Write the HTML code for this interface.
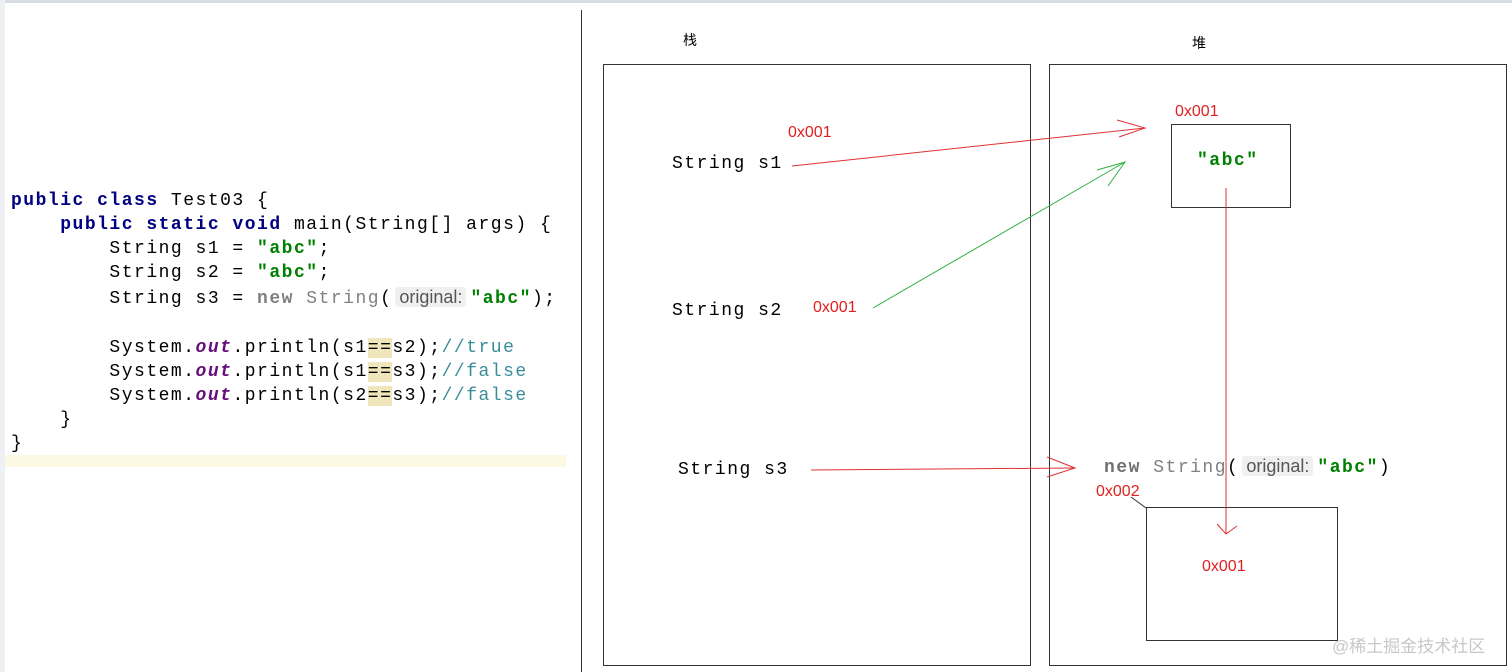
<!DOCTYPE html>
<html><head><meta charset="utf-8"><style>
body{margin:0;width:1512px;height:672px;background:#fff;position:relative;overflow:hidden;font-family:"Liberation Sans","Noto Sans CJK SC",sans-serif}
.code{position:absolute;left:11px;font-family:"Liberation Mono",monospace;font-size:18px;letter-spacing:1.5px;color:#000;white-space:pre;line-height:24.1px}
.kw{color:#000080;font-weight:bold}
.st{color:#008000;font-weight:bold}
.it{color:#660e7a;font-weight:bold;font-style:italic}
.cm{color:#3a8c9a}
.gr{color:#808080}
.hint{font-family:"Liberation Sans",sans-serif;letter-spacing:0;color:#555;background:#f0f0f0;font-size:18px;padding:0 4px;margin:0 4px 0 3px;border-radius:3px}
.hl{background:#f0e6bc}
.t{position:absolute;white-space:nowrap}
.red{color:#e02020;font-size:16px}
</style></head><body>
<div style="position:absolute;left:0;top:0;width:1512px;height:3px;background:#d8dce6"></div>
<div style="position:absolute;left:0;top:0;width:5px;height:672px;background:#eef0f4"></div>
<div style="position:absolute;left:5px;top:455px;width:561px;height:12px;background:#fdf8e4"></div>
<div class="code" style="top:189px"><span class="kw">public class</span> Test03 {
    <span class="kw">public static void</span> main(String[] args) {
        String s1 = <span class="st">"abc"</span>;
        String s2 = <span class="st">"abc"</span>;
        String s3 = <span class="kw" style="color:#808080">new</span> <span class="gr">String</span>(<span class="hint">original:</span><span class="st">"abc"</span>);

        System.<span class="it">out</span>.println(s1<span class="hl">==</span>s2);<span class="cm">//true</span>
        System.<span class="it">out</span>.println(s1<span class="hl">==</span>s3);<span class="cm">//false</span>
        System.<span class="it">out</span>.println(s2<span class="hl">==</span>s3);<span class="cm">//false</span>
    }
}</div>
<svg width="1512" height="672" style="position:absolute;left:0;top:0">
<line x1="581.5" y1="10" x2="581.5" y2="672" stroke="#333" stroke-width="1"/>
<rect x="603.5" y="64.5" width="427" height="601" fill="none" stroke="#333"/>
<rect x="1049.5" y="64.5" width="457" height="601" fill="none" stroke="#333"/>
<rect x="1171.5" y="124.5" width="119" height="83" fill="none" stroke="#333"/>
<rect x="1146.5" y="507.5" width="191" height="133" fill="none" stroke="#333"/>
<line x1="1131" y1="497" x2="1146" y2="508" stroke="#333"/>
<g stroke="#e03030" fill="none" stroke-width="1">
<line x1="792" y1="166" x2="1145" y2="128"/>
<polyline points="1117,120 1145,128 1119,137"/>
<line x1="811" y1="470" x2="1074" y2="468"/>
<polyline points="1047,457 1075,468 1047,477"/>
<line x1="1226" y1="188" x2="1226" y2="534"/>
<polyline points="1217,524 1226,534 1237,526"/>
</g>
<g stroke="#30b040" fill="none">
<line x1="873" y1="308" x2="1125" y2="162"/>
<polyline points="1097,170 1125,162 1108,186"/>
</g>
</svg>
<div class="t" style="left:683px;top:30px;font-size:14px">栈</div>
<div class="t" style="left:1192px;top:33px;font-size:14px">堆</div>
<div class="t red" style="left:788px;top:124px">0x001</div>
<div class="t red" style="left:1175px;top:103px">0x001</div>
<div class="t red" style="left:813px;top:299px">0x001</div>
<div class="t red" style="left:1096px;top:483px">0x002</div>
<div class="t red" style="left:1202px;top:558px">0x001</div>
<div class="code" style="left:672px;top:152px">String s1</div>
<div class="code" style="left:672px;top:299px">String s2</div>
<div class="code" style="left:678px;top:458px">String s3</div>
<div class="code" style="left:1197px;top:149px"><span class="st">"abc"</span></div>
<div class="code" style="left:1104px;top:454px"><span class="kw" style="color:#707070">new</span> <span class="gr">String</span>(<span class="hint">original:</span><span class="st">"abc"</span>)</div>
<div class="t" style="left:1332px;top:632px;font-size:17px;color:#c8c8c8">@稀土掘金技术社区</div>
</body></html>
